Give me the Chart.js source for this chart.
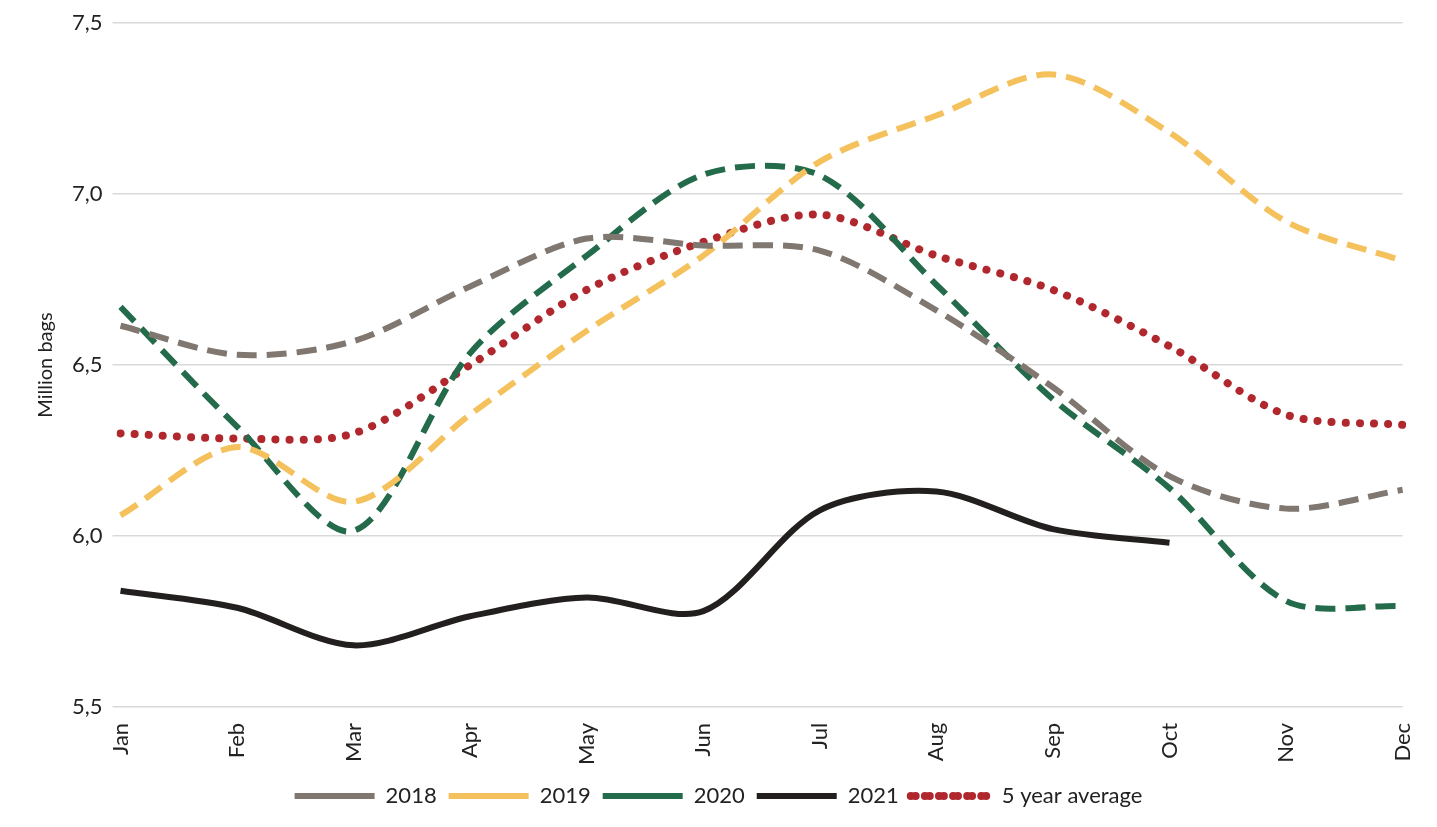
<!DOCTYPE html>
<html><head><meta charset="utf-8">
<script src="https://cdn.jsdelivr.net/npm/chart.js@4"></script>
<style>body{margin:0;background:#fff}</style>
</head><body><canvas id="c" width="1437" height="827"></canvas>
<script>
const months=["Jan","Feb","Mar","Apr","May","Jun","Jul","Aug","Sep","Oct","Nov","Dec"];
const y2018=[6.615,6.53,6.57,6.73,6.87,6.85,6.835,6.66,6.435,6.175,6.08,6.135];
const y2019=[6.06,6.26,6.10,6.355,6.60,6.82,7.095,7.23,7.35,7.18,6.92,6.805];
const y2020=[6.67,6.32,6.015,6.535,6.82,7.057,7.055,6.735,6.40,6.14,5.81,5.795];
const y2021=[5.84,5.79,5.68,5.765,5.82,5.78,6.075,6.13,6.02,5.98];
const avg5=[6.30,6.285,6.30,6.50,6.72,6.86,6.94,6.82,6.72,6.555,6.355,6.325];
Chart.defaults.font.family="Lato";
Chart.defaults.font.size=22;
Chart.defaults.color="#222";
function ds(label,data,color,dash,width){
  return {label,data,borderColor:color,backgroundColor:color,borderDash:dash,borderWidth:width,
    pointRadius:0,tension:0.3,borderCapStyle:'butt',fill:false};
}
const d5=ds("5 year average",avg5,"#b0282d",[0.1,14],8);
d5.borderCapStyle='round';
new Chart("c",{type:"line",
  data:{labels:months,datasets:[
    ds("2018",y2018,"#7f7770",[20,10],6),
    ds("2019",y2019,"#f4c15d",[20,10],6),
    ds("2020",y2020,"#236b4a",[20,10],6),
    ds("2021",y2021,"#231f1f",[],6),
    d5]},
  options:{responsive:false,animation:false,devicePixelRatio:1,
    layout:{padding:{left:30,right:30,top:20,bottom:10}},
    plugins:{legend:{position:"bottom",labels:{boxWidth:80,boxHeight:0,padding:12,font:{size:22}}}},
    scales:{
      x:{grid:{display:false},border:{display:false},ticks:{maxRotation:90,minRotation:90,padding:8}},
      y:{min:5.5,max:7.5,ticks:{stepSize:0.5,callback:v=>v.toFixed(1).replace('.',','),padding:10},
         grid:{color:"#d9d9d9",lineWidth:1.5},border:{display:false},
         title:{display:true,text:"Million bags",font:{size:20}}}
    }}
});
</script>
</body></html>
